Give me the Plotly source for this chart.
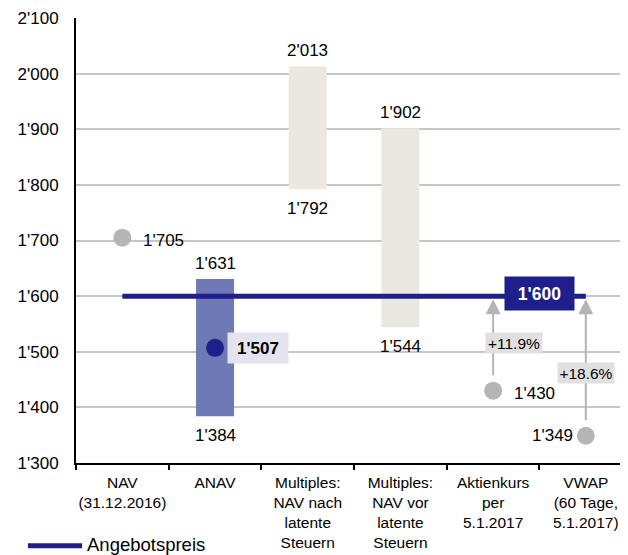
import plotly.graph_objects as go

# ---- data ----
categories = [
    "NAV<br>(31.12.2016)",
    "ANAV",
    "Multiples:<br>NAV nach<br>latente<br>Steuern",
    "Multiples:<br>NAV vor<br>latente<br>Steuern",
    "Aktienkurs<br>per<br>5.1.2017",
    "VWAP<br>(60 Tage,<br>5.1.2017)",
]
range_cats = [1, 2, 3]
range_low = [1384, 1792, 1544]
range_high = [1631, 2013, 1902]
range_colors = ["#6f79b5", "#ebe8df", "#ebe8df"]

point_cats = [0, 1, 4, 5]
point_values = [1705, 1507, 1430, 1349]
point_colors = ["#b5b5b5", "#1f1f8c", "#b5b5b5", "#b5b5b5"]
point_label_side = ["right", "box", "right", "left"]

offer_price = 1600
offer_span = [0, 5]
premium_cats = [4, 5]
premium_base = [1430, 1349]

y_ticks = list(range(1300, 2101, 100))


def fmt(v):
    s = f"{int(round(v)):,}"
    return s.replace(",", "'")


NAVY = "#1f1f8c"
GRAY = "#b5b5b5"
FONT = "Liberation Sans, Arial, Helvetica, sans-serif"
LBL = 17

fig = go.Figure()

# floating range bars
fig.add_trace(go.Bar(
    x=[categories[i] for i in range_cats],
    y=[h - l for h, l in zip(range_high, range_low)],
    base=range_low,
    width=0.41,
    marker=dict(color=range_colors, line=dict(width=0)),
    showlegend=False,
    hoverinfo="skip",
))

# offer price line
fig.add_trace(go.Scatter(
    x=[categories[i] for i in offer_span],
    y=[offer_price, offer_price],
    mode="lines",
    line=dict(color=NAVY, width=5),
    name="Angebotspreis",
    showlegend=False,
))

# points
fig.add_trace(go.Scatter(
    x=[categories[i] for i in point_cats],
    y=point_values,
    mode="markers",
    marker=dict(color=point_colors, size=18, line=dict(width=0)),
    showlegend=False,
))

annotations = []
# bar labels
for c, lo, hi in zip(range_cats, range_low, range_high):
    annotations.append(dict(x=categories[c], y=hi, text=fmt(hi), showarrow=False,
                            yanchor="bottom", yshift=4, font=dict(size=LBL)))
    annotations.append(dict(x=categories[c], y=lo, text=fmt(lo), showarrow=False,
                            yanchor="top", yshift=-8, font=dict(size=LBL)))

# point labels
for c, v, side in zip(point_cats, point_values, point_label_side):
    if side == "right":
        annotations.append(dict(x=categories[c], y=v, text=fmt(v), showarrow=False,
                                xanchor="left", xshift=19, yshift=-3, font=dict(size=LBL)))
    elif side == "left":
        annotations.append(dict(x=categories[c], y=v, text=fmt(v), showarrow=False,
                                xanchor="right", xshift=-11, font=dict(size=LBL)))
    else:
        annotations.append(dict(x=categories[c], y=v, text="<b>" + fmt(v) + "</b>",
                                showarrow=False, xanchor="left", xshift=12,
                                bgcolor="#e4e4ef", width=52, height=22, borderpad=4,
                                font=dict(size=LBL)))

# premium arrows and labels
pct_xshift = [21, 0]
pct_yshift = [0, -7]
for c, b, xs, ys in zip(premium_cats, premium_base, pct_xshift, pct_yshift):
    annotations.append(dict(x=c, y=offer_price, ax=c, ay=b, xref="x", yref="y",
                            axref="x", ayref="y", text="", showarrow=True,
                            arrowhead=2, arrowsize=1.5, arrowwidth=2, arrowcolor=GRAY,
                            standoff=3, startstandoff=14))
    pct = (offer_price / b - 1) * 100
    annotations.append(dict(x=c, y=(offer_price + b) / 2, text=f"+{pct:.1f}%",
                            showarrow=False, xshift=xs, yshift=ys, bgcolor="#e0e0e0",
                            width=54, height=18, borderpad=1, font=dict(size=15.5)))

# offer price label
annotations.append(dict(x=(offer_span[1] - 0.5), y=offer_price,
                        text="<b>" + fmt(offer_price) + "</b>", showarrow=False,
                        yshift=3, bgcolor=NAVY, width=61, height=25, borderpad=4,
                        font=dict(size=17.5, color="white")))

# manual legend
annotations.append(dict(xref="paper", yref="paper", x=0.016, y=-0.184,
                        text="Angebotspreis", showarrow=False, xanchor="left",
                        yanchor="middle", font=dict(size=18.5)))

# page body has an 8px default margin; figure is sized/offset to compensate
fig.update_layout(
    width=620, height=547,
    margin=dict(l=68, r=0, t=10, b=92, autoexpand=False),
    plot_bgcolor="white", paper_bgcolor="white",
    font=dict(family=FONT, color="black", size=16),
    bargap=0.59,
    annotations=annotations,
    shapes=[dict(type="line", xref="paper", yref="paper", x0=-0.087, x1=0.011,
                 y0=-0.186, y1=-0.186, line=dict(color=NAVY, width=5))],
    showlegend=False,
)
fig.update_xaxes(
    type="category", categoryorder="array", categoryarray=categories,
    range=[-0.5, 5.455], tickson="boundaries", ticks="outside", ticklen=5,
    tickwidth=2, tickcolor="black", showline=True, linecolor="black", linewidth=2,
    showgrid=False, tickfont=dict(size=15.5), tickangle=0, automargin=False,
    ticklabelstandoff=4,
)
fig.update_yaxes(
    range=[1300, 2100], tickmode="array", tickvals=y_ticks,
    ticktext=[fmt(v) for v in y_ticks], showline=True, linecolor="black",
    linewidth=2, showgrid=True, gridcolor="#c6c6c6", gridwidth=1.5,
    zeroline=False, ticks="", ticklabelstandoff=12, tickfont=dict(size=17),
    automargin=False,
)

fig.write_html("out.html")
